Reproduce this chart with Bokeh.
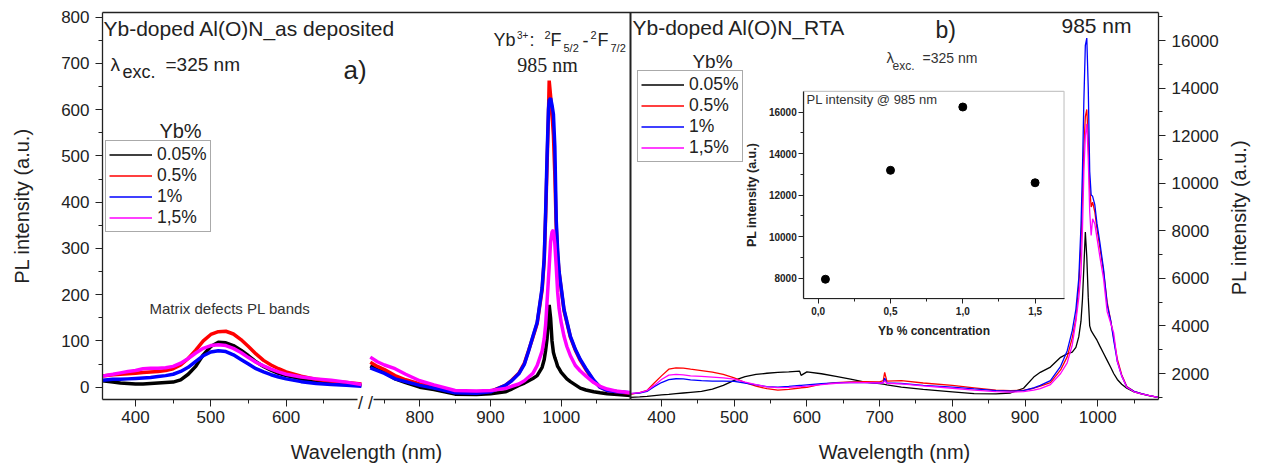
from math import pi
from bokeh.plotting import figure
from bokeh.models import (Range1d, LinearAxis, FixedTicker, Label, Legend,
                          LegendItem, BoxAnnotation, Grid)
from bokeh.embed import file_html
from bokeh.resources import INLINE

# ------------------------------------------------------------------ data
series_labels = ["0.05%", "0.5%", "1%", "1,5%"]
series_colors = ["#000000", "#ff0000", "#0000ff", "#ff00ff"]

# panel a) as deposited, visible range
wl_a_vis = [356, 370, 380, 390, 400, 410, 420, 430, 440, 450, 460, 470, 480, 490, 500,
            510, 520, 530, 540, 550, 560, 570, 580, 590, 600, 620, 640, 660, 680, 700]
a_vis_005 = [14, 11, 9, 8, 7, 7, 8, 9, 10, 11, 16, 28, 45, 70, 88, 97, 96, 90, 80, 68,
             55, 45, 37, 30, 25, 18, 13, 10, 7, 4]
a_vis_05 = [24, 27, 28, 29, 30, 32, 33, 34, 36, 40, 48, 62, 80, 100, 114, 120, 121, 115, 103, 88,
            72, 58, 48, 40, 33, 24, 17, 13, 10, 7]
a_vis_1 = [15, 17, 17, 18, 19, 20, 21, 23, 25, 28, 34, 43, 56, 68, 76, 79, 77, 70, 60, 50,
           40, 33, 27, 22, 18, 12, 8, 6, 4, 2]
a_vis_15 = [24, 28, 31, 34, 36, 40, 41, 41, 42, 45, 52, 62, 74, 84, 90, 92, 90, 84, 75, 64,
            54, 46, 39, 33, 28, 22, 18, 15, 11, 6]

# panel a) as deposited, NIR range
wl_a_nir = [730, 740, 750, 765, 780, 800, 820, 850, 880, 900, 921, 930, 940, 948, 954, 960,
            966, 973, 976, 978, 980, 982, 983, 985, 987, 989, 991, 993, 995, 997, 1000, 1004,
            1008, 1013, 1020, 1027, 1035, 1046, 1055, 1065, 1080, 1098]
a_nir_005 = [46, 38, 32, 18, 10, 0, -5, -15, -16, -14, -10, -4, 4, 9, 14, 19, 25, 43, 60, 80,
             105, 150, 178, 150, 100, 75, 64, 55, 45, 40, 32, 25, 18, 12, 5, -2, -6, -10, -12, -14,
             -16, -18]
a_nir_05 = [54, 45, 38, 25, 16, 7, 0, -10, -12, -9, 4, 15, 30, 52, 80, 108, 138, 210, 275, 370,
            480, 590, 663, 630, 590, 545, 460, 345, 285, 248, 212, 165, 140, 108, 80, 58, 38, 14, 0, -7,
            -10, -13]
a_nir_1 = [42, 36, 30, 18, 12, 4, -2, -12, -13, -10, 4, 14, 29, 50, 79, 110, 140, 215, 280, 380,
           500, 600, 620, 625, 610, 590, 520, 360, 295, 250, 215, 168, 142, 110, 82, 60, 40, 15, 0, -7,
           -10, -12]
a_nir_15 = [65, 55, 48, 40, 28, 14, 5, -7, -8, -7, -3, 2, 7, 14, 22, 30, 47, 78, 105, 135,
            185, 235, 260, 315, 335, 340, 310, 260, 205, 170, 140, 110, 88, 68, 47, 35, 24, 10, 2, -4,
            -9, -12]

# panel b) RTA
wl_b = [357, 370, 380, 390, 400, 410, 420, 430, 440, 455, 470, 485, 500, 515, 530, 545, 560, 575,
        590, 592, 600, 620, 640, 660, 680, 700, 705, 707, 710, 730, 760, 800, 830, 860, 880, 898,
        912, 921, 935, 949, 958, 965, 970, 974, 977, 979, 981, 983, 985, 987, 989, 991, 993, 996,
        999, 1003, 1008, 1013, 1018, 1022, 1027, 1033, 1040, 1050, 1060, 1070, 1083]
b_005 = [1000, 1020, 1040, 1070, 1100, 1120, 1150, 1180, 1210, 1250, 1340, 1500, 1710, 1870, 1960,
         2010, 2050, 2070, 2100, 1920, 2070, 1990, 1880, 1760, 1640, 1570, 1550, 1540, 1520, 1430,
         1330, 1230, 1150, 1140, 1180, 1380, 1850, 2050, 2270, 2680, 2830, 2900, 3100, 3550, 4200,
         5100, 6500, 7950, 6900, 5200, 4000, 3800, 3700, 3550, 3400, 3150, 2850, 2550, 2250, 2000,
         1750, 1550, 1380, 1230, 1140, 1070, 1000]
b_05 = [1120, 1200, 1290, 1600, 1900, 2180, 2240, 2230, 2180, 2120, 2060, 1960, 1820, 1620, 1470,
        1360, 1300, 1330, 1390, 1400, 1420, 1550, 1620, 1650, 1660, 1650, 1700, 2050, 1680, 1700,
        1600, 1500, 1400, 1300, 1280, 1290, 1380, 1470, 1620, 2150, 2700, 3500, 4300, 5700, 7500,
        9300, 11500, 12800, 13100, 11800, 9800, 9000, 9200, 8800, 8100, 7300, 6300, 5000, 4200, 3500,
        2600, 1950, 1450, 1250, 1150, 1080, 1000]
b_1 = [1150, 1180, 1250, 1450, 1620, 1740, 1780, 1770, 1730, 1700, 1680, 1680, 1670, 1600, 1520,
       1450, 1430, 1460, 1500, 1500, 1520, 1570, 1610, 1630, 1620, 1600, 1620, 1800, 1600, 1580,
       1500, 1430, 1350, 1280, 1260, 1280, 1400, 1500, 1700, 2300, 2950, 3800, 4700, 6000, 8200,
       10500, 13500, 15800, 16100, 14000, 10500, 9500, 9450, 9100, 8300, 7500, 6400, 4900, 4200, 3400,
       2500, 1900, 1430, 1250, 1150, 1080, 1000]
b_15 = [1150, 1200, 1280, 1500, 1750, 1930, 1960, 1940, 1900, 1880, 1850, 1820, 1760, 1640, 1530,
        1440, 1410, 1420, 1450, 1450, 1470, 1530, 1590, 1620, 1620, 1600, 1600, 1700, 1590, 1560,
        1480, 1380, 1300, 1240, 1220, 1240, 1300, 1360, 1530, 2000, 2450, 3200, 4200, 5200, 6200,
        8000, 10500, 12000, 12500, 11000, 8800, 7800, 8500, 8300, 7700, 6900, 6000, 4600, 4100, 3700,
        2500, 1900, 1420, 1230, 1140, 1080, 1000]

# inset: PL intensity @ 985 nm
yb_conc = [0.05, 0.5, 1.0, 1.5]
pl_985 = [7950, 13200, 16250, 12600]

# ticks
a_y_ticks = [0, 100, 200, 300, 400, 500, 600, 700, 800]
a_y_minor = [50, 150, 250, 350, 450, 550, 650, 750]
a_x_vis_ticks = [400, 500, 600]
a_x_vis_minor = [450, 550, 650]
a_x_nir_ticks = [800, 900, 1000]
a_x_nir_minor = [750, 850, 950, 1050]
b_x_ticks = [400, 500, 600, 700, 800, 900, 1000]
b_x_minor = [450, 550, 650, 750, 850, 950, 1050]
b_y_ticks = [2000, 4000, 6000, 8000, 10000, 12000, 14000, 16000]
b_y_minor = [1000, 3000, 5000, 7000, 9000, 11000, 13000, 15000, 17000]
in_x_ticks = [0, 0.5, 1.0, 1.5]
in_x_labels = ["0,0", "0,5", "1,0", "1,5"]
in_x_minor = [0.25, 0.75, 1.25]
in_y_ticks = [8000, 10000, 12000, 14000, 16000]
in_y_minor = [9000, 11000, 13000, 15000]

# ------------------------------------------------------------------ layout
W, H = 1260, 468            # the plotting frame fills the whole canvas
PL, PR, PT, PB = 102, 1158, 12, 399   # edges of the drawn panels, page pixels
BREAK_L, BREAK_R, MID = 357, 373, 630
FONT = "Liberation Sans"
TXT = "#222222"


def hrange(v0, p0, k):
    return Range1d(v0 - p0 / k, v0 + (W - p0) / k)


def vrange(v0, p0, k):
    return Range1d(v0 - (H - p0) / k, v0 + p0 / k)


xa1 = hrange(400, 135, 0.753)     # panel a, visible part
xa2 = hrange(800, 419.3, 0.707)   # panel a, NIR part
xb = hrange(400, 661, 0.727)      # panel b
xi = hrange(0, 817.7, 144.6)      # inset
ya = vrange(0, 386.7, 0.4625)
yb = vrange(2000, 373, 333 / 14000)
yi = vrange(16000, 111.7, 0.02075)


def xv(rng, px):
    return rng.start + px * (rng.end - rng.start) / W


def yv(rng, py):
    return rng.end - py * (rng.end - rng.start) / H


p = figure(width=W, height=H, x_range=xa1, y_range=ya, output_backend="svg",
           toolbar_location=None, tools="", title=None,
           x_axis_location=None, y_axis_location=None,
           min_border_left=0, min_border_right=0, min_border_top=0, min_border_bottom=0)
p.extra_x_ranges = {"xa2": xa2, "xb": xb, "xi": xi}
p.extra_y_ranges = {"yb": yb, "yi": yi}
p.center = [r for r in p.center if not isinstance(r, Grid)]
p.outline_line_color = None
p.background_fill_color = "white"
p.border_fill_color = "white"


def style_axis(ax, size="17px", tick=7, minor=4, lw=1.3):
    ax.axis_line_color = TXT
    ax.axis_line_width = lw
    ax.major_tick_line_color = TXT
    ax.minor_tick_line_color = TXT
    ax.major_tick_in = 0
    ax.minor_tick_in = 0
    ax.major_tick_out = tick
    ax.minor_tick_out = minor
    ax.major_label_text_font = FONT
    ax.major_label_text_font_size = size
    ax.major_label_text_color = TXT
    ax.axis_label_text_font = FONT
    ax.axis_label_text_font_style = "normal"
    ax.axis_label_text_color = TXT
    return ax


ya_bounds = (yv(ya, PB), yv(ya, PT))
y_bottom = yv(ya, PB)

# panel a left axis
ax_l = style_axis(LinearAxis(fixed_location=xv(xa1, PL), bounds=ya_bounds,
                             ticker=FixedTicker(ticks=a_y_ticks, minor_ticks=a_y_minor)))
ax_l.major_label_standoff = 6
ax_l.axis_label = "PL intensity (a.u.)"
ax_l.axis_label_text_font_size = "20px"
ax_l.axis_label_standoff = 25
p.add_layout(ax_l, "left")

# bottom axes: panel a (two parts around the break) and panel b
ax_a1 = style_axis(LinearAxis(fixed_location=y_bottom,
                              bounds=(xv(xa1, PL), xv(xa1, BREAK_L)),
                              ticker=FixedTicker(ticks=a_x_vis_ticks, minor_ticks=a_x_vis_minor)))
ax_a2 = style_axis(LinearAxis(x_range_name="xa2", fixed_location=y_bottom,
                              bounds=(xv(xa2, BREAK_R), xv(xa2, MID)),
                              ticker=FixedTicker(ticks=a_x_nir_ticks, minor_ticks=a_x_nir_minor)))
ax_bb = style_axis(LinearAxis(x_range_name="xb", fixed_location=y_bottom,
                              bounds=(xv(xb, MID), xv(xb, PR)),
                              ticker=FixedTicker(ticks=b_x_ticks, minor_ticks=b_x_minor)))
for ax in (ax_a1, ax_a2, ax_bb):
    ax.major_label_standoff = 4
    p.add_layout(ax, "below")

# panel b right axis
ax_r = style_axis(LinearAxis(y_range_name="yb", fixed_location=xv(xa1, PR),
                             bounds=(yv(yb, PB), yv(yb, PT)),
                             ticker=FixedTicker(ticks=b_y_ticks, minor_ticks=b_y_minor)))
ax_r.major_label_standoff = 6
p.add_layout(ax_r, "right")

# top border and divider between both panels
ax_top = style_axis(LinearAxis(fixed_location=yv(ya, PT), bounds=(xv(xa1, PL), xv(xa1, PR)),
                               ticker=FixedTicker(ticks=[])))
p.add_layout(ax_top, "above")
ax_div = style_axis(LinearAxis(fixed_location=xv(xa1, MID), bounds=ya_bounds,
                               ticker=FixedTicker(ticks=[])), lw=2)
p.add_layout(ax_div, "left")

# ------------------------------------------------------------------ curves
for ys, c in zip([a_vis_005, a_vis_05, a_vis_1, a_vis_15], series_colors):
    p.line(wl_a_vis, ys, color=c, line_width=3.5)
for ys, c in zip([a_nir_005, a_nir_05, a_nir_1, a_nir_15], series_colors):
    p.line(wl_a_nir, ys, color=c, line_width=3.5, x_range_name="xa2")
b_renderers = []
for ys, c in zip([b_005, b_05, b_1, b_15], series_colors):
    b_renderers.append(p.line(wl_b, ys, color=c, line_width=1.3,
                              x_range_name="xb", y_range_name="yb"))

# ------------------------------------------------------------------ inset
box = BoxAnnotation(left=-0.1, right=1.7, bottom=7000, top=17000,
                    x_range_name="xi", y_range_name="yi",
                    fill_color="white", fill_alpha=1.0,
                    line_color="#444444", line_width=1.2, level="underlay")
p.add_layout(box)
p.scatter(yb_conc, pl_985, size=8, color="black", x_range_name="xi", y_range_name="yi")

ax_il = style_axis(LinearAxis(x_range_name="xi", y_range_name="yi", fixed_location=-0.1,
                              bounds=(7000, 17000),
                              ticker=FixedTicker(ticks=in_y_ticks, minor_ticks=in_y_minor)),
                   size="10px", tick=5, minor=3, lw=1.2)
ax_il.major_label_text_font_style = "bold"
ax_il.major_label_standoff = 2
ax_il.axis_label = "PL intensity (a.u.)"
ax_il.axis_label_text_font_size = "12.5px"
ax_il.axis_label_text_font_style = "bold"
ax_il.axis_label_standoff = 7
p.add_layout(ax_il, "left")

ax_ib = style_axis(LinearAxis(x_range_name="xi", y_range_name="yi", fixed_location=7000,
                              bounds=(-0.1, 1.7),
                              ticker=FixedTicker(ticks=in_x_ticks, minor_ticks=in_x_minor),
                              major_label_overrides=dict(zip(in_x_ticks, in_x_labels))),
                   size="10px", tick=5, minor=3, lw=1.2)
ax_ib.major_label_text_font_style = "bold"
ax_ib.major_label_standoff = 3
ax_ib.axis_label = "Yb % concentration"
ax_ib.axis_label_text_font_size = "12px"
ax_ib.axis_label_text_font_style = "bold"
ax_ib.axis_label_standoff = 6
p.add_layout(ax_ib, "below")

# ------------------------------------------------------------------ legends
def add_legend(left_px, bottom_px):
    lg = Legend(items=[LegendItem(label=l, renderers=[r])
                       for l, r in zip(series_labels, b_renderers)],
                location=(left_px, H - bottom_px))
    lg.label_text_font = FONT
    lg.label_text_font_size = "17.5px"
    lg.label_text_color = TXT
    lg.glyph_width = 43
    lg.glyph_height = 21
    lg.label_height = 21
    lg.label_standoff = 5
    lg.padding = 3
    lg.spacing = 0
    lg.margin = 0
    lg.border_line_color = "#555555"
    lg.border_line_width = 1.5
    lg.background_fill_color = "white"
    lg.background_fill_alpha = 1.0
    p.add_layout(lg, "center")


add_legend(105, 232)
add_legend(637, 162)

# ------------------------------------------------------------------ texts
def text(s, px, py, size, align="left", font=FONT, angle=0.0, color=TXT,
         style="normal", centered=False):
    # py is the text baseline in page pixels (or its centre when centered=True)
    cy = py if centered else py - 0.35 * size
    p.add_layout(Label(x=xv(xa1, px), y=yv(ya, cy), text=s, text_font=font,
                       text_font_size=f"{size}px", text_align=align,
                       text_baseline="middle", text_color=color, angle=angle,
                       text_font_style=style))


# panel a
text("Yb-doped Al(O)N_as deposited", 103, 35, 21)
text("\u03bb", 110, 71, 19)
text("exc.", 122, 78, 18)
text("=325 nm", 165, 71, 19)
text("a)", 343, 79, 26)
text("Yb", 493, 46, 18)
text("3+", 516.5, 38, 10)
text(":", 529, 46, 18)
text("2", 544, 38, 11)
text("F", 550, 46, 18)
text("5/2", 563, 51, 11)
text("-", 582, 46, 18)
text("2", 590, 38, 11)
text("F", 597, 46, 18)
text("7/2", 610, 51, 11)
text("985 nm", 547, 71, 20, align="center", font="Liberation Serif")
text("Matrix defects PL bands", 149, 313, 15, color="#333333")
text("Yb%", 180, 137, 20, align="center")
text("Wavelength (nm)", 366, 458, 20, align="center")
text("/ /", 365, 402, 18, align="center", centered=True)

# panel b
text("Yb-doped Al(O)N_RTA", 632, 34, 21)
text("b)", 935, 38, 23)
text("\u03bb", 886, 62, 15, color="#333333")
text("exc.", 892, 70, 12, color="#333333")
text("=325 nm", 922, 62, 14, color="#333333")
text("985 nm", 1096, 32, 21, align="center")
text("Yb%", 712, 68, 19, align="center")
text("PL intensity @ 985 nm", 806, 104, 13, color="#333333")
text("Wavelength (nm)", 894, 458, 20, align="center")
text("PL intensity (a.u.)", 1238, 217, 20, align="center", angle=pi / 2, centered=True)

open("out.html", "w").write(file_html(p, INLINE))
